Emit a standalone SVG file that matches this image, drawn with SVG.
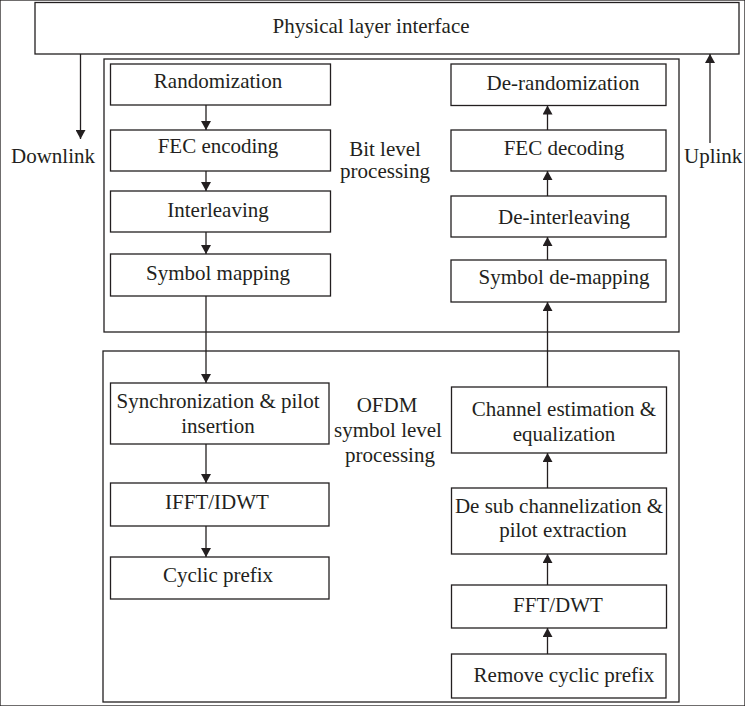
<svg xmlns="http://www.w3.org/2000/svg" width="745" height="706" viewBox="0 0 745 706">
<defs>
<style>
rect{fill:#fff;stroke:#231f20;stroke-width:1.3}
.c line{stroke:#231f20;stroke-width:1.3;fill:none}
text{font-family:"Liberation Serif","Times New Roman",serif;font-size:21px;fill:#231f20}
.m{text-anchor:middle}
</style>
<marker id="ah" markerWidth="11" markerHeight="10" refX="10" refY="5.5" orient="auto" markerUnits="userSpaceOnUse" viewBox="0 0 10 11">
<path d="M0,0 L10,5.5 L0,11 z" fill="#231f20"/>
</marker>
</defs>
<rect width="745" height="706" fill="#fff" stroke="none"/>
<g id="phy"><rect x="35" y="2.5" width="704" height="51.5"/><text class="m" x="371" y="33">Physical layer interface</text></g>
<g id="bitlevel"><rect x="104" y="59" width="575" height="273"/><text class="m" x="385" y="156">Bit level</text><text class="m" x="385" y="178">processing</text></g>
<g id="ofdmlevel"><rect x="103" y="351" width="576" height="351"/><text class="m" x="387" y="412">OFDM</text><text class="m" x="388" y="437">symbol level</text><text class="m" x="390" y="462">processing</text></g>
<g id="downlink"><text x="11" y="163">Downlink</text></g>
<g id="uplink"><text x="684" y="163">Uplink</text></g>
<g id="randomization"><rect x="110.5" y="64" width="220" height="41"/><text class="m" x="218" y="87.5">Randomization</text></g>
<g id="fec-enc"><rect x="110.5" y="130" width="220" height="41"/><text class="m" x="218" y="153">FEC encoding</text></g>
<g id="interleaving"><rect x="110.5" y="191" width="220" height="41"/><text class="m" x="218" y="217">Interleaving</text></g>
<g id="symbol-mapping"><rect x="110.5" y="254" width="220" height="42"/><text class="m" x="218" y="280">Symbol mapping</text></g>
<g id="sync"><rect x="110.5" y="383" width="218.5" height="61"/><text class="m" x="218" y="408">Synchronization &amp; pilot</text><text class="m" x="218" y="433">insertion</text></g>
<g id="ifft"><rect x="110.5" y="483" width="218.5" height="43"/><text class="m" x="217" y="509">IFFT/IDWT</text></g>
<g id="cyclic-prefix"><rect x="110.5" y="557" width="218.5" height="42"/><text class="m" x="218" y="581.5">Cyclic prefix</text></g>
<g id="de-randomization"><rect x="451" y="64" width="215" height="41.5"/><text class="m" x="563" y="89.5">De-randomization</text></g>
<g id="fec-dec"><rect x="451" y="130" width="215" height="41"/><text class="m" x="564" y="155">FEC decoding</text></g>
<g id="de-interleaving"><rect x="451" y="196" width="215" height="41"/><text class="m" x="564" y="224">De-interleaving</text></g>
<g id="symbol-demapping"><rect x="451" y="260" width="215" height="42"/><text class="m" x="564" y="284">Symbol de-mapping</text></g>
<g id="channel-est"><rect x="451.5" y="387" width="215" height="66"/><text class="m" x="564" y="416">Channel estimation &amp;</text><text class="m" x="564" y="441">equalization</text></g>
<g id="desub"><rect x="451.5" y="488" width="215" height="66"/><text class="m" x="559" y="513">De sub channelization &amp;</text><text class="m" x="563" y="537">pilot extraction</text></g>
<g id="fft"><rect x="451.5" y="585" width="215" height="43"/><text class="m" x="558" y="612">FFT/DWT</text></g>
<g id="remove-cp"><rect x="451.5" y="654" width="214.5" height="44"/><text class="m" x="564" y="682">Remove cyclic prefix</text></g>
<g class="c" id="connectors">
<line x1="80.5" y1="54" x2="80.5" y2="139" marker-end="url(#ah)"/>
<line x1="710" y1="143" x2="710" y2="54" marker-end="url(#ah)"/>
<line x1="206" y1="105" x2="206" y2="130" marker-end="url(#ah)"/>
<line x1="206" y1="171" x2="206" y2="191" marker-end="url(#ah)"/>
<line x1="206" y1="232" x2="206" y2="254" marker-end="url(#ah)"/>
<line x1="206" y1="296" x2="206" y2="383" marker-end="url(#ah)"/>
<line x1="206" y1="444" x2="206" y2="483" marker-end="url(#ah)"/>
<line x1="206" y1="526" x2="206" y2="557" marker-end="url(#ah)"/>
<line x1="547.5" y1="654" x2="547.5" y2="628" marker-end="url(#ah)"/>
<line x1="547.5" y1="585" x2="547.5" y2="554" marker-end="url(#ah)"/>
<line x1="547.5" y1="488" x2="547.5" y2="453" marker-end="url(#ah)"/>
<line x1="547.5" y1="387" x2="547.5" y2="302" marker-end="url(#ah)"/>
<line x1="547.5" y1="260" x2="547.5" y2="237" marker-end="url(#ah)"/>
<line x1="547.5" y1="196" x2="547.5" y2="171" marker-end="url(#ah)"/>
<line x1="547.5" y1="130" x2="547.5" y2="105.5" marker-end="url(#ah)"/>
</g>
</svg>
